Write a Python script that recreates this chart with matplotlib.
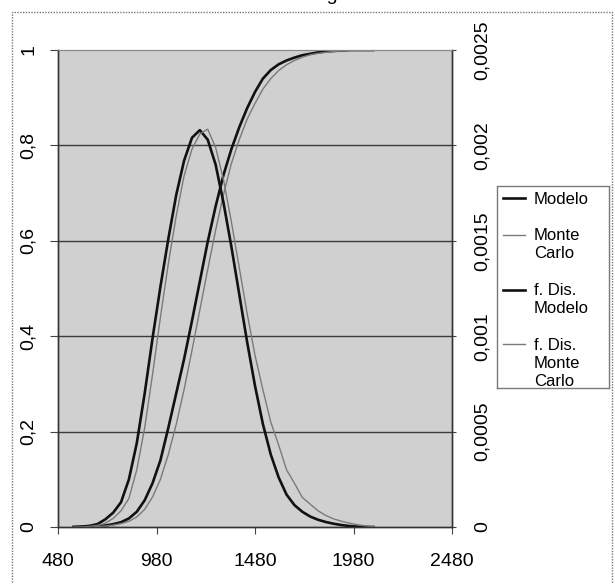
import matplotlib
matplotlib.use("Agg")
import matplotlib.pyplot as plt
import numpy as np
from matplotlib.legend_handler import HandlerLine2D
from matplotlib.patches import Rectangle

plt.rcParams['font.family'] = ['Liberation Sans', 'DejaVu Sans']

# ---------------- data ----------------
x_vals = [560, 600, 640, 680, 720, 760, 800, 840, 880, 920, 960, 1000, 1040,
          1080, 1120, 1160, 1200, 1240, 1280, 1320, 1360, 1400, 1440, 1480,
          1520, 1560, 1600, 1640, 1680, 1720, 1760, 1800, 1840, 1880, 1920,
          1960, 2000, 2040, 2080]

# cumulative distribution (left axis)
cdf_modelo = [0.0, 0.0, 0.001, 0.002, 0.003, 0.006, 0.010, 0.018, 0.032, 0.056,
              0.092, 0.140, 0.208, 0.280, 0.352, 0.432, 0.515, 0.598, 0.672,
              0.738, 0.792, 0.838, 0.878, 0.912, 0.940, 0.958, 0.970, 0.978,
              0.984, 0.989, 0.992, 0.995, 0.997, 0.998, 0.999, 1.0, 1.0, 1.0, 1.0]
cdf_montecarlo = [0.0, 0.0, 0.0, 0.001, 0.002, 0.004, 0.007, 0.012, 0.021, 0.037,
                  0.063, 0.100, 0.152, 0.215, 0.288, 0.370, 0.455, 0.540, 0.622,
                  0.697, 0.762, 0.812, 0.855, 0.888, 0.918, 0.940, 0.957, 0.969,
                  0.978, 0.985, 0.990, 0.993, 0.995, 0.997, 0.998, 0.999, 0.9995,
                  1.0, 1.0]

# density (right axis), in units of 1e-3
pdf_modelo_e3 = [0.0, 0.002, 0.006, 0.015, 0.040, 0.075, 0.130, 0.250, 0.440,
                 0.700, 0.990, 1.260, 1.510, 1.740, 1.920, 2.040, 2.080, 2.030,
                 1.900, 1.700, 1.470, 1.220, 0.970, 0.740, 0.540, 0.380, 0.260,
                 0.170, 0.115, 0.080, 0.055, 0.038, 0.026, 0.017, 0.010, 0.005,
                 0.002, 0.0, 0.0]
pdf_montecarlo_e3 = [0.0, 0.0, 0.003, 0.008, 0.020, 0.045, 0.085, 0.150, 0.300,
                     0.520, 0.800, 1.100, 1.380, 1.630, 1.840, 1.980, 2.060,
                     2.085, 1.990, 1.820, 1.600, 1.360, 1.120, 0.900, 0.720,
                     0.550, 0.430, 0.300, 0.230, 0.155, 0.120, 0.085, 0.060,
                     0.042, 0.030, 0.020, 0.012, 0.006, 0.002]

x_ticks = [480, 980, 1480, 1980, 2480]
y_left_ticks = [0, 0.2, 0.4, 0.6, 0.8, 1.0]
y_left_labels = ["0", "0,2", "0,4", "0,6", "0,8", "1"]
y_right_ticks = [0, 0.0005, 0.001, 0.0015, 0.002, 0.0025]
y_right_labels = ["0", "0,0005", "0,001", "0,0015", "0,002", "0,0025"]
grid_levels = [0.2, 0.4, 0.6, 0.8]

labels = ["Modelo", "Monte\nCarlo", "f. Dis.\nModelo", "f. Dis.\nMonte\nCarlo"]
title_text = "Histograma"

# ---------------- figure ----------------
W, H = 615, 584
fig = plt.figure(figsize=(W / 100, H / 100), dpi=100)
fig.patch.set_facecolor('white')

# outer chart frame
frame = Rectangle((12 / W, -0.05), 600 / W, 1 - 12 / H + 0.05,
                  transform=fig.transFigure, fill=False, ec='#777777',
                  lw=1.0, ls=(0, (1, 1)))
fig.add_artist(frame)

# title (cut off at the top edge, only the descender shows, as in the reference)
fig.text(333 / W, 1 + 0.5 / H, title_text, ha='center', va='baseline',
         fontsize=14, color='black')

ax = fig.add_axes([58 / W, 1 - 527 / H, 394 / W, 477 / H])
ax.set_facecolor('#d0d0d0')
ax.set_xlim(480, 2480)
ax.set_ylim(0, 1)

for g in grid_levels:
    ax.axhline(g, color='#3a3a3a', lw=1.0, zorder=1)

xs = np.array(x_vals)
l1, = ax.plot(xs, cdf_modelo, color='#111111', lw=1.9, zorder=3)
l2, = ax.plot(xs, cdf_montecarlo, color='#7a7a7a', lw=1.0, zorder=3)

ax2 = ax.twinx()
ax2.set_ylim(0, 0.0025)
l3, = ax2.plot(xs, np.array(pdf_modelo_e3) * 1e-3, color='#111111', lw=1.9)
l4, = ax2.plot(xs, np.array(pdf_montecarlo_e3) * 1e-3, color='#7a7a7a', lw=1.0)

ax.set_xticks(x_ticks)
ax.set_xticklabels([str(v) for v in x_ticks])
ax.set_yticks(y_left_ticks)
ax.set_yticklabels(y_left_labels)
ax2.set_yticks(y_right_ticks)
ax2.set_yticklabels(y_right_labels)

ax.tick_params(axis='x', direction='out', length=5, width=0.8, color='#444444',
               pad=14, labelsize=14)
ax.tick_params(axis='y', direction='out', length=6, width=0.8, color='#444444',
               pad=9, labelsize=14, labelrotation=90)
ax2.tick_params(axis='y', direction='out', length=3, width=0.8, color='#444444',
                pad=13, labelsize=14, labelrotation=90)
for t in ax.get_yticklabels():
    t.set_va('center')
for t in ax2.get_yticklabels():
    t.set_va('center')

for a in (ax, ax2):
    for side in ('left', 'bottom', 'right'):
        a.spines[side].set_color('#333333')
        a.spines[side].set_linewidth(1.0)
    a.spines['top'].set_color('#8a8a8a')
    a.spines['top'].set_linestyle((0, (1, 1)))

# ---------------- legend ----------------
LS = 1.25

class TopAlignedHandler(HandlerLine2D):
    def __init__(self, nlines, **kw):
        super().__init__(**kw)
        self.nlines = nlines

    def create_artists(self, legend, orig_handle, xdescent, ydescent, width,
                       height, fontsize, trans):
        arts = super().create_artists(legend, orig_handle, xdescent, ydescent,
                                      width, height, fontsize, trans)
        shift = (self.nlines - 1) / 2 * fontsize * LS * 0.93
        for a in arts:
            a.set_ydata(np.asarray(a.get_ydata()) + shift)
        return arts

lax = fig.add_axes([497 / W, 1 - 388 / H, 112 / W, 202 / H])
lax.set_facecolor('white')
lax.set_xticks([])
lax.set_yticks([])
for sp in lax.spines.values():
    sp.set_color('#7a7a7a')
    sp.set_linestyle((0, (1, 1)))
    sp.set_linewidth(1.0)

handles = [l1, l2, l3, l4]
hmap = {h: TopAlignedHandler(lab.count("\n") + 1) for h, lab in zip(handles, labels)}
leg = lax.legend(handles, labels, loc='upper left', bbox_to_anchor=(0.0, 1.0),
                 frameon=False, fontsize=12, handlelength=1.3,
                 handletextpad=0.55, labelspacing=1.3, borderpad=0.35,
                 borderaxespad=0.0, handler_map=hmap)
for t in leg.get_texts():
    t.set_linespacing(LS)
    t.set_clip_box(lax.bbox)
    t.set_clip_on(True)

fig.savefig("out.png", dpi=100)
